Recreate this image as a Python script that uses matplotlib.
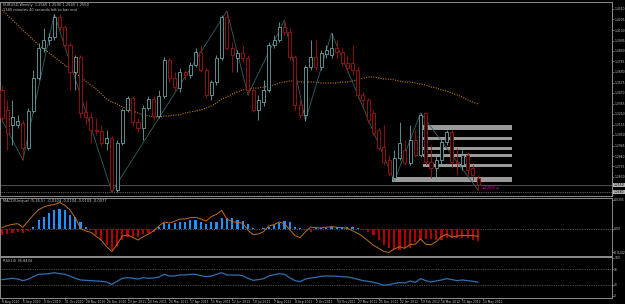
import matplotlib
matplotlib.use('Agg')
import matplotlib.pyplot as plt
import numpy as np
import pandas as pd

W, H = 625, 304

# weekly candles, Aug 2010 .. May 2012
opens = [1.350, 1.330, 1.315, 1.315, 1.317, 1.292, 1.329, 1.362, 1.392, 1.400,
         1.403, 1.423, 1.413, 1.395, 1.368, 1.383, 1.328, 1.323, 1.310, 1.309,
         1.297, 1.302, 1.250, 1.297, 1.330, 1.342, 1.318, 1.312, 1.332, 1.341,
         1.324, 1.344, 1.380, 1.362, 1.352, 1.368, 1.365, 1.375, 1.388, 1.370,
         1.345, 1.358, 1.382, 1.423, 1.392, 1.382, 1.387, 1.382, 1.350, 1.330,
         1.338, 1.350, 1.395, 1.400, 1.413, 1.408, 1.383, 1.335, 1.325, 1.373,
         1.383, 1.373, 1.386, 1.385, 1.392, 1.388, 1.377, 1.377, 1.370, 1.345,
         1.340, 1.327, 1.310, 1.293, 1.280, 1.262, 1.282, 1.290, 1.277, 1.300,
         1.285, 1.327, 1.278, 1.272, 1.280, 1.298, 1.308, 1.278, 1.275, 1.285,
         1.272, 1.262]
closes = [1.322, 1.307, 1.323, 1.319, 1.292, 1.329, 1.362, 1.392, 1.400, 1.403,
          1.423, 1.413, 1.395, 1.368, 1.383, 1.327, 1.323, 1.310, 1.309, 1.297,
          1.302, 1.250, 1.297, 1.330, 1.342, 1.318, 1.312, 1.332, 1.341, 1.324,
          1.344, 1.380, 1.362, 1.353, 1.368, 1.365, 1.375, 1.388, 1.370, 1.345,
          1.358, 1.382, 1.423, 1.392, 1.385, 1.387, 1.382, 1.350, 1.330, 1.340,
          1.350, 1.395, 1.400, 1.413, 1.408, 1.383, 1.335, 1.325, 1.373, 1.383,
          1.373, 1.387, 1.390, 1.392, 1.388, 1.377, 1.372, 1.370, 1.345, 1.340,
          1.320, 1.307, 1.292, 1.278, 1.267, 1.282, 1.297, 1.277, 1.300, 1.285,
          1.325, 1.278, 1.272, 1.280, 1.298, 1.308, 1.278, 1.277, 1.285, 1.270,
          1.265, 1.255]
highs = [1.354, 1.340, 1.340, 1.325, 1.320, 1.332, 1.370, 1.397, 1.412, 1.407,
         1.426, 1.426, 1.415, 1.398, 1.385, 1.385, 1.340, 1.328, 1.322, 1.315,
         1.310, 1.304, 1.300, 1.332, 1.344, 1.344, 1.322, 1.335, 1.344, 1.344,
         1.350, 1.383, 1.382, 1.368, 1.372, 1.370, 1.378, 1.392, 1.395, 1.372,
         1.360, 1.385, 1.425, 1.429, 1.398, 1.390, 1.395, 1.385, 1.352, 1.345,
         1.360, 1.398, 1.405, 1.418, 1.420, 1.412, 1.385, 1.340, 1.375, 1.400,
         1.400, 1.390, 1.395, 1.407, 1.400, 1.392, 1.385, 1.395, 1.374, 1.348,
         1.342, 1.330, 1.312, 1.315, 1.285, 1.290, 1.318, 1.300, 1.315, 1.310,
         1.327, 1.327, 1.295, 1.285, 1.302, 1.310, 1.310, 1.292, 1.290, 1.288,
         1.275, 1.265]
lows = [1.318, 1.290, 1.295, 1.312, 1.280, 1.290, 1.327, 1.360, 1.388, 1.395,
        1.400, 1.410, 1.390, 1.350, 1.350, 1.322, 1.315, 1.297, 1.305, 1.294,
        1.290, 1.248, 1.248, 1.295, 1.328, 1.314, 1.308, 1.300, 1.330, 1.320,
        1.322, 1.342, 1.358, 1.350, 1.348, 1.360, 1.362, 1.373, 1.368, 1.342,
        1.340, 1.355, 1.380, 1.390, 1.368, 1.368, 1.378, 1.345, 1.328, 1.320,
        1.334, 1.348, 1.392, 1.398, 1.405, 1.380, 1.330, 1.322, 1.319, 1.370,
        1.370, 1.370, 1.382, 1.382, 1.382, 1.374, 1.368, 1.365, 1.342, 1.332,
        1.317, 1.304, 1.290, 1.275, 1.264, 1.259, 1.280, 1.275, 1.275, 1.283,
        1.283, 1.275, 1.262, 1.260, 1.275, 1.295, 1.272, 1.265, 1.270, 1.265,
        1.260, 1.250]

# long moving average (orange dotted)
ma = [1.430, 1.425, 1.420, 1.415, 1.410, 1.405, 1.400, 1.395, 1.391, 1.387,
      1.383, 1.379, 1.375, 1.371, 1.367, 1.363, 1.359, 1.355, 1.351, 1.346,
      1.341, 1.338, 1.336, 1.333, 1.331, 1.329, 1.327, 1.325, 1.324, 1.323,
      1.323, 1.324, 1.324, 1.325, 1.325, 1.327, 1.328, 1.329, 1.330, 1.332,
      1.334, 1.337, 1.341, 1.343, 1.346, 1.348, 1.350, 1.351, 1.352, 1.352,
      1.353, 1.354, 1.355, 1.357, 1.358, 1.359, 1.359, 1.358, 1.358, 1.358,
      1.358, 1.357, 1.357, 1.357, 1.357, 1.358, 1.358, 1.359, 1.360, 1.362,
      1.363, 1.363, 1.362, 1.361, 1.361, 1.360, 1.359, 1.358, 1.358, 1.357,
      1.356, 1.355, 1.353, 1.352, 1.350, 1.349, 1.347, 1.345, 1.343, 1.340,
      1.338, 1.336]

# zigzag swing points (bar, price)
zz_bar = [0, 4, 10, 21, 43, 47, 54, 58, 63, 75, 80, 91]
zz_price = [1.320, 1.280, 1.426, 1.248, 1.429, 1.345, 1.420, 1.319, 1.407, 1.259, 1.327, 1.250]

# grey support / resistance zones
zone_lo = [1.310, 1.300, 1.290, 1.283, 1.273, 1.258]
zone_hi = [1.315, 1.303, 1.293, 1.286, 1.276, 1.263]
zone_from = [81, 81, 81, 81, 81, 75]

macd_hist = [-0.0063, -0.0056, -0.0046, -0.0035, -0.0046, -0.0021, 0.0025, 0.0095, 0.0130, 0.0165,
             0.0200, 0.0210, 0.0200, 0.0147, 0.0130, 0.0077, 0.0025, -0.0011, -0.0063, -0.0116,
             -0.0168, -0.0221, -0.0186, -0.0116, -0.0081, -0.0081, -0.0081, -0.0056, -0.0046, -0.0028,
             0.0025, 0.0060, 0.0049, 0.0060, 0.0077, 0.0077, 0.0095, 0.0095, 0.0077, 0.0049,
             0.0077, 0.0077, 0.0119, 0.0112, 0.0112, 0.0095, 0.0084, 0.0049, 0.0007, -0.0004,
             0.0007, 0.0025, 0.0042, 0.0060, 0.0084, 0.0077, 0.0025, 0.0014, -0.0011, -0.0028,
             0.0007, 0.0007, 0.0014, 0.0025, 0.0025, 0.0025, 0.0025, 0.0025, 0.0014, -0.0011,
             -0.0028, -0.0063, -0.0116, -0.0168, -0.0203, -0.0221, -0.0221, -0.0203, -0.0203, -0.0133,
             -0.0116, -0.0109, -0.0109, -0.0116, -0.0116, -0.0098, -0.0098, -0.0098, -0.0098, -0.0098,
             -0.0116, -0.0123]
macd_signal = [0.0014, 0.0035, 0.0049, 0.0056, 0.0018, 0.0084, 0.0147, 0.0203, 0.0231, 0.0249,
               0.0256, 0.0280, 0.0249, 0.0200, 0.0119, 0.0007, -0.0021, -0.0035, -0.0077, -0.0119,
               -0.0186, -0.0238, -0.0161, -0.0074, -0.0063, -0.0088, -0.0116, -0.0081, -0.0053, -0.0018,
               0.0032, 0.0074, 0.0063, 0.0081, 0.0105, 0.0105, 0.0119, 0.0123, 0.0105, 0.0084,
               0.0130, 0.0154, 0.0196, 0.0105, 0.0077, 0.0070, 0.0060, -0.0011, -0.0060, -0.0053,
               -0.0028, 0.0032, 0.0046, 0.0074, 0.0056, -0.0007, -0.0070, -0.0091, -0.0028, 0.0021,
               0.0014, 0.0011, 0.0018, 0.0025, 0.0018, 0.0014, 0.0007, -0.0018, -0.0046, -0.0081,
               -0.0126, -0.0172, -0.0203, -0.0238, -0.0245, -0.0210, -0.0186, -0.0203, -0.0161, -0.0161,
               -0.0105, -0.0161, -0.0165, -0.0133, -0.0081, -0.0056, -0.0084, -0.0074, -0.0067, -0.0070,
               -0.0070, -0.0077]

rsi = [43.0, 44.7, 46.5, 44.7, 40.4, 43.9, 50.9, 57.0, 57.9, 58.8,
       61.4, 58.8, 57.0, 52.6, 46.5, 42.1, 41.2, 40.4, 39.5, 38.6,
       36.8, 30.7, 38.6, 46.5, 48.2, 46.5, 44.7, 48.2, 46.5, 47.4,
       50.0, 57.0, 52.6, 52.6, 55.3, 55.3, 57.0, 57.0, 53.5, 50.9,
       52.6, 57.0, 61.4, 55.3, 55.3, 55.3, 53.5, 46.5, 41.2, 43.0,
       45.6, 52.6, 56.1, 58.8, 57.0, 48.2, 40.4, 37.7, 44.7, 47.4,
       49.1, 51.8, 52.6, 52.6, 51.8, 50.9, 50.0, 47.4, 43.9, 40.4,
       38.6, 36.0, 32.5, 28.1, 29.8, 33.3, 35.1, 34.2, 39.5, 36.0,
       45.6, 40.4, 36.8, 39.5, 42.1, 45.6, 43.0, 40.4, 42.1, 40.4,
       38.6, 36.8]

price_ticks = [1.4310, 1.4205, 1.4100, 1.3995, 1.3890, 1.3785, 1.3680, 1.3575, 1.3470,
               1.3365, 1.3260, 1.3155, 1.3050, 1.2945, 1.2840, 1.2735, 1.2630]
bid_price = 1.2550
ask_price = 1.2480

n = len(closes)
assert len(opens) == n and len(highs) == n and len(lows) == n and len(ma) == n
assert len(macd_hist) == n and len(macd_signal) == n and len(rsi) == n
bars = np.arange(n)
weeks = pd.date_range('2010-08-08', periods=n + 1, freq='W-SUN')

BULL = '#6aa3a6'
BEAR = '#a51212'
GREY = '#8c8c8c'
TXT = '#c4c4c4'
FS = 2.6
AXFS = 2.2

fig = plt.figure(figsize=(W / 100, H / 100), dpi=100, facecolor='black')


def panel(top, bottom):
    ax = fig.add_axes([0, 1 - bottom / H, 612 / W, (bottom - top) / H])
    ax.set_facecolor('black')
    ax.set_xlim(-0.38, 116.6)
    ax.set_xticks([])
    for s in ax.spines.values():
        s.set_color(GREY)
        s.set_linewidth(0.7)
    ax.yaxis.tick_right()
    ax.tick_params(axis='y', colors=GREY, labelcolor=TXT, labelsize=AXFS,
                   length=1.2, width=0.5, pad=0.4)
    return ax


# ---- price panel
ax = panel(2, 196)
ax.set_ylim(1.244, 1.438)
o = np.array(opens)
c = np.array(closes)
up = c >= o
cols = np.where(up, BULL, BEAR)

for lo, hi, s in zip(zone_lo, zone_hi, zone_from):
    ax.fill_between([s - 0.5, 97.5], lo, hi, color='#9a9a9a', lw=0, zorder=2)

ax.plot(bars, ma, color='#c8780a', ls=(0, (1, 1.2)), lw=0.8, zorder=2)
ax.plot(zz_bar, zz_price, color='#2f6262', lw=0.6, zorder=2.5)
ax.vlines(bars, lows, highs, colors=cols, lw=0.6, zorder=3)
ax.bar(bars, np.maximum(np.abs(c - o), 0.0006), bottom=np.minimum(o, c), width=0.58,
       facecolor='black', edgecolor=cols, linewidth=0.6, zorder=4)

ax.axhline(bid_price, color='#5a5a5a', lw=0.6, zorder=1)
ax.axhline(ask_price, color='#7a7a7a', lw=0.6, ls=(0, (1, 1.2)), zorder=1)
ax.set_yticks(price_ticks)
ax.set_yticklabels([f'{p:.4f}' for p in price_ticks])
for p in (bid_price, ask_price):
    ax.text(1.003, p, f'{p:.4f}', transform=ax.get_yaxis_transform(), fontsize=AXFS,
            color='black', va='center', ha='left', clip_on=False,
            bbox=dict(boxstyle='square,pad=0.12', fc='#b4b4b4', ec='none'))
ax.text(n - 0.2, 1.2515, '\u25c41.2550 \u25c4', color='#e020e0', fontsize=AXFS,
        va='center', ha='left', zorder=5)

fig.text(3 / W, 1 - 5 / H, 'EURUSD,Weekly  1.2565 1.2590 1.2540 1.2550', color=TXT,
         fontsize=FS, va='center', ha='left')
fig.text(3 / W, 1 - 10 / H, '1380 minutes 40 seconds left to bar end', color=TXT,
         fontsize=FS, va='center', ha='left')

# ---- MACD panel
ax2 = panel(198, 256)
ax2.set_ylim(-0.0284, 0.0326)
hcols = np.where(np.array(macd_hist) >= 0, '#1e90ff', '#b00000')
ax2.bar(bars, macd_hist, width=0.42, color=hcols, zorder=3)
ax2.plot(bars, macd_signal, color='#c07018', lw=0.7, zorder=4)
ax2.axhline(0, color='#9a9a9a', lw=0.5, ls=(0, (1, 1.5)), zorder=2)
ax2.set_yticks([0.0305, 0.0, -0.0242])
ax2.set_yticklabels(['0.0305', '0.00', '-0.0242'])
fig.text(3 / W, 1 - 201 / H,
         'MACD(Unique) (5,35,5)  -0.0104 -0.0104 -0.0109 -0.0077',
         color=TXT, fontsize=FS, va='center', ha='left')

# ---- RSI panel
ax3 = panel(257, 298)
ax3.set_ylim(-5.3, 102.6)
ax3.plot(bars, rsi, color='#2d6fb3', lw=0.9, zorder=3)
for lvl in (70, 30):
    ax3.axhline(lvl, color='#8a8a8a', lw=0.5, ls=(0, (1, 1.5)), zorder=2)
ax3.set_yticks([100, 70, 30, 0])
ax3.set_yticklabels(['100', '70', '30', '0'])
fig.text(3 / W, 1 - 261 / H, 'RSI(14) 36.8434', color=TXT, fontsize=FS,
         va='center', ha='left')

tick_idx = np.arange(0, n + 1, 4)
ax3.set_xticks(tick_idx)
ax3.set_xticklabels([f'{d.day} {d:%b %Y}' for d in weeks[tick_idx]], ha='left')
ax3.tick_params(axis='x', colors=GREY, labelcolor=TXT, labelsize=AXFS, length=1.2,
                width=0.5, pad=0.5)

fig.savefig('out.png', dpi=100, facecolor='black')
